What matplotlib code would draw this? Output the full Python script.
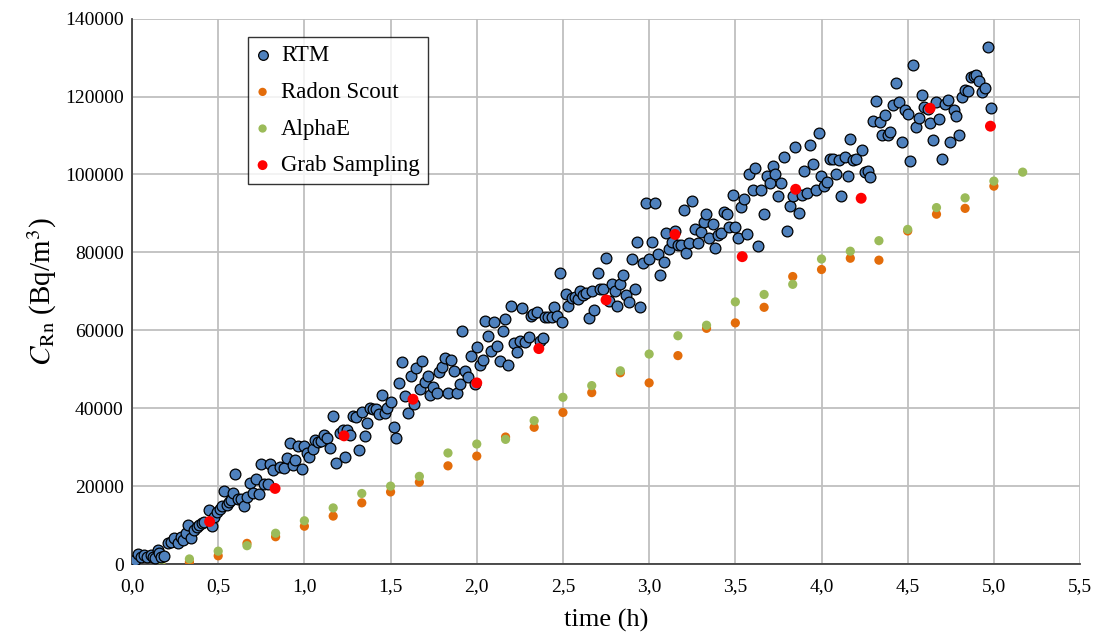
import matplotlib.pyplot as plt
from matplotlib.ticker import FuncFormatter, MultipleLocator

# RTM readings: time (h) and concentration (kBq/m3)
rtm_t = [0.015, 0.033, 0.052, 0.072, 0.085, 0.11, 0.12, 0.135, 0.148, 0.159, 0.168, 0.188,
         0.207, 0.226, 0.246, 0.265, 0.284, 0.298, 0.313, 0.323, 0.342, 0.362, 0.375, 0.39,
         0.407, 0.42, 0.449, 0.464, 0.478, 0.492, 0.511, 0.522, 0.536, 0.55, 0.565, 0.575,
         0.584, 0.6, 0.613, 0.632, 0.652, 0.666, 0.685, 0.7, 0.72, 0.735, 0.749, 0.768,
         0.787, 0.8, 0.816, 0.859, 0.879, 0.898, 0.917, 0.936, 0.946, 0.965, 0.985, 0.998,
         1.013, 1.028, 1.049, 1.062, 1.081, 1.095, 1.115, 1.134, 1.149, 1.164, 1.184, 1.207,
         1.226, 1.236, 1.249, 1.264, 1.284, 1.3, 1.315, 1.332, 1.352, 1.366, 1.381, 1.4,
         1.416, 1.43, 1.451, 1.468, 1.481, 1.5, 1.517, 1.532, 1.551, 1.568, 1.584, 1.6,
         1.617, 1.633, 1.648, 1.672, 1.681, 1.701, 1.716, 1.729, 1.749, 1.768, 1.782, 1.797,
         1.813, 1.832, 1.852, 1.869, 1.884, 1.9, 1.917, 1.933, 1.948, 1.967, 1.987, 2.0,
         2.017, 2.035, 2.048, 2.065, 2.084, 2.101, 2.116, 2.135, 2.15, 2.165, 2.183, 2.2,
         2.218, 2.233, 2.248, 2.265, 2.281, 2.301, 2.316, 2.329, 2.349, 2.368, 2.384, 2.397,
         2.416, 2.435, 2.45, 2.468, 2.484, 2.497, 2.519, 2.532, 2.552, 2.571, 2.585, 2.6,
         2.616, 2.635, 2.654, 2.668, 2.681, 2.701, 2.716, 2.735, 2.751, 2.77, 2.784, 2.803,
         2.816, 2.832, 2.848, 2.867, 2.881, 2.9, 2.919, 2.932, 2.949, 2.964, 2.983, 2.998,
         3.016, 3.035, 3.049, 3.064, 3.084, 3.099, 3.115, 3.132, 3.151, 3.165, 3.185, 3.2,
         3.215, 3.234, 3.251, 3.268, 3.283, 3.301, 3.316, 3.332, 3.345, 3.368, 3.383, 3.399,
         3.419, 3.432, 3.451, 3.466, 3.484, 3.5, 3.515, 3.535, 3.55, 3.568, 3.582, 3.6,
         3.615, 3.632, 3.651, 3.668, 3.684, 3.702, 3.717, 3.732, 3.748, 3.767, 3.784, 3.8,
         3.82, 3.833, 3.848, 3.867, 3.884, 3.901, 3.916, 3.933, 3.95, 3.968, 3.984, 3.999,
         4.016, 4.034, 4.051, 4.065, 4.083, 4.1, 4.115, 4.134, 4.151, 4.165, 4.18, 4.202,
         4.235, 4.254, 4.268, 4.284, 4.299, 4.318, 4.337, 4.351, 4.367, 4.384, 4.399, 4.414,
         4.434, 4.452, 4.467, 4.482, 4.5, 4.516, 4.531, 4.55, 4.565, 4.582, 4.597, 4.616,
         4.631, 4.646, 4.666, 4.682, 4.701, 4.718, 4.731, 4.748, 4.767, 4.782, 4.798, 4.817,
         4.835, 4.848, 4.867, 4.883, 4.899, 4.914, 4.931, 4.95, 4.964, 4.983]
rtm_k = [1.0, 2.57, 1.88, 2.31, 1.88, 2.31, 1.88, 1.45, 3.59, 2.74, 1.71, 2.05,
         5.3, 5.73, 6.59, 5.3, 7.02, 6.16, 7.87, 10.0, 6.59, 8.73, 9.41, 10.0,
         10.4, 10.9, 13.8, 9.8, 12.1, 13.4, 14.2, 14.8, 18.8, 15.1, 15.9, 16.5,
         18.3, 23.1, 16.8, 16.8, 14.8, 17.1, 20.8, 18.3, 21.7, 17.9, 25.8, 20.5,
         20.5, 25.6, 24.1, 25.0, 24.6, 27.1, 31.0, 25.5, 26.8, 30.3, 24.3, 30.3,
         28.4, 27.5, 29.6, 31.9, 31.3, 31.7, 33.0, 32.4, 29.9, 38.0, 26.0, 33.6,
         34.3, 27.5, 34.5, 33.0, 38.0, 37.7, 29.3, 39.1, 32.8, 36.3, 40.0, 39.7,
         39.7, 38.5, 43.4, 38.7, 40.0, 41.7, 35.2, 32.3, 46.5, 51.8, 43.1, 38.8,
         48.2, 41.1, 50.2, 44.8, 52.2, 46.8, 48.3, 43.4, 45.5, 44.0, 49.4, 50.7,
         52.8, 43.8, 52.4, 49.6, 44.0, 46.2, 59.9, 49.6, 47.9, 53.4, 46.1, 55.6,
         51.1, 52.5, 62.4, 58.5, 54.8, 62.1, 55.9, 52.2, 59.9, 63.0, 51.1, 66.2,
         56.7, 54.3, 57.3, 65.8, 57.1, 58.4, 63.6, 64.2, 64.8, 57.3, 58.0, 63.3,
         63.5, 63.5, 65.9, 63.6, 74.6, 62.2, 69.3, 66.2, 68.2, 68.6, 68.0, 70.2,
         69.1, 69.7, 63.1, 70.2, 65.2, 74.8, 70.5, 70.5, 78.5, 67.6, 71.9, 70.2,
         66.2, 71.9, 74.2, 69.1, 67.3, 78.2, 70.5, 82.7, 65.9, 77.3, 92.6, 78.2,
         82.6, 92.6, 79.6, 74.2, 77.6, 85.0, 80.8, 82.6, 85.5, 82.0, 82.0, 91.0,
         79.8, 82.3, 93.3, 85.9, 82.3, 85.3, 87.9, 89.8, 83.6, 87.3, 81.0, 84.5,
         84.9, 90.4, 89.8, 86.6, 94.7, 86.6, 83.6, 91.7, 93.6, 84.7, 100.1, 96.0,
         101.6, 81.6, 96.0, 89.8, 99.6, 97.9, 102.2, 100.1, 94.4, 97.9, 104.6, 85.6,
         91.9, 94.4, 107.0, 90.1, 94.8, 101.0, 95.3, 107.6, 102.6, 96.0, 110.6, 99.6,
         97.1, 98.1, 104.1, 104.1, 100.1, 103.6, 94.4, 104.6, 99.6, 109.1, 103.6, 103.9,
         106.3, 100.7, 100.9, 99.4, 113.8, 118.9, 113.6, 110.1, 115.3, 110.1, 110.8, 117.8,
         123.6, 118.6, 108.4, 116.5, 115.6, 103.5, 128.1, 112.3, 114.4, 120.4, 117.3, 116.7,
         113.3, 108.8, 118.6, 114.2, 103.9, 118.2, 119.2, 108.4, 116.5, 114.9, 110.1, 120.0,
         121.7, 121.5, 124.9, 125.3, 125.6, 124.0, 121.3, 122.1, 132.6, 117.1]
rtm_c = [v * 1000 for v in rtm_k]

# Radon Scout and AlphaE: one reading every 10 minutes
scout_t = [0, 0.167, 0.333, 0.5, 0.667, 0.833, 1.0, 1.167, 1.333, 1.5, 1.667, 1.833,
           2.0, 2.167, 2.333, 2.5, 2.667, 2.833, 3.0, 3.167, 3.333, 3.5, 3.667, 3.833,
           4.0, 4.167, 4.333, 4.5, 4.667, 4.833, 5.0]
scout_c = [0, 0, 500, 2100, 5300, 7000, 9700, 12300, 15700, 18500, 21000, 25200,
           27700, 32600, 35100, 38900, 44000, 49100, 46500, 53500, 60500, 61900, 65900, 73800,
           75600, 78500, 78000, 85500, 89800, 91300, 97000]
alpha_t = [0, 0.167, 0.333, 0.5, 0.667, 0.833, 1.0, 1.167, 1.333, 1.5, 1.667, 1.833,
           2.0, 2.167, 2.333, 2.5, 2.667, 2.833, 3.0, 3.167, 3.333, 3.5, 3.667, 3.833,
           4.0, 4.167, 4.333, 4.5, 4.667, 4.833, 5.0, 5.167]
alpha_c = [0, 0, 1300, 3300, 4700, 7900, 11100, 14400, 18100, 20000, 22500, 28500,
           30800, 32000, 36800, 42800, 45800, 49600, 53900, 58600, 61300, 67300, 69200, 71800,
           78300, 80300, 83000, 85900, 91500, 94000, 98300, 100600]

# grab samples
grab_t = [0.45, 0.83, 1.23, 1.63, 2.0, 2.36, 2.75, 3.15, 3.54, 3.85, 4.23, 4.63, 4.98]
grab_c = [10900, 19400, 32900, 42300, 46500, 55300, 67800, 84600, 78900, 96200, 93900,
          117000, 112400]

plt.rcParams['font.family'] = ['Liberation Serif', 'DejaVu Serif']
plt.rcParams['mathtext.fontset'] = 'stix'

fig = plt.figure(figsize=(11.01, 6.33), dpi=100)
ax = fig.add_axes([0.1199, 0.109, 0.8611, 0.8615])

ax.scatter(scout_t, scout_c, s=44, color='#E36C0A', edgecolors='none', label='Radon Scout', zorder=3)
ax.scatter(alpha_t, alpha_c, s=44, color='#9BBB59', edgecolors='none', label='AlphaE', zorder=3)
ax.scatter(rtm_t, rtm_c, s=60, color='#4F81BD', edgecolors='black', linewidths=0.9,
           label='RTM', zorder=4)
ax.scatter(grab_t, grab_c, s=62, color='#FF0000', edgecolors='none', label='Grab Sampling', zorder=5)

ax.set_xlim(0, 5.5)
ax.set_ylim(0, 140000)
ax.xaxis.set_major_locator(MultipleLocator(0.5))
ax.yaxis.set_major_locator(MultipleLocator(20000))
ax.xaxis.set_major_formatter(FuncFormatter(lambda v, p: f"{v:.1f}".replace('.', ',')))
ax.yaxis.set_major_formatter(FuncFormatter(lambda v, p: f"{int(v)}"))

ax.grid(True, color='#BFBFBF', linewidth=1.3, zorder=0)
ax.set_axisbelow(True)
for s in ['top', 'right']:
    ax.spines[s].set_visible(False)
for s in ['left', 'bottom']:
    ax.spines[s].set_color('#404040')
    ax.spines[s].set_linewidth(1.3)

ax.tick_params(axis='both', labelsize=14, length=0)
ax.tick_params(axis='x', pad=10)
ax.tick_params(axis='y', pad=6)

ax.set_xlabel('time (h)', fontsize=19, labelpad=10)
ax.set_ylabel(r'$C_{\mathrm{Rn}}$ (Bq/m$^3$)', fontsize=21, labelpad=4)

# legend order as in the original
h, l = ax.get_legend_handles_labels()
order = [2, 0, 1, 3]
leg = ax.legend([h[i] for i in order], [l[i] for i in order], loc='upper left',
                bbox_to_anchor=(0.122, 0.966), borderaxespad=0, fontsize=16.5,
                frameon=True, fancybox=False, edgecolor='black', markerscale=0.9,
                labelspacing=0.68, handlelength=0.6, handletextpad=0.5, borderpad=0.35)
leg.get_frame().set_linewidth(1.0)

fig.savefig('out.png', dpi=100)
